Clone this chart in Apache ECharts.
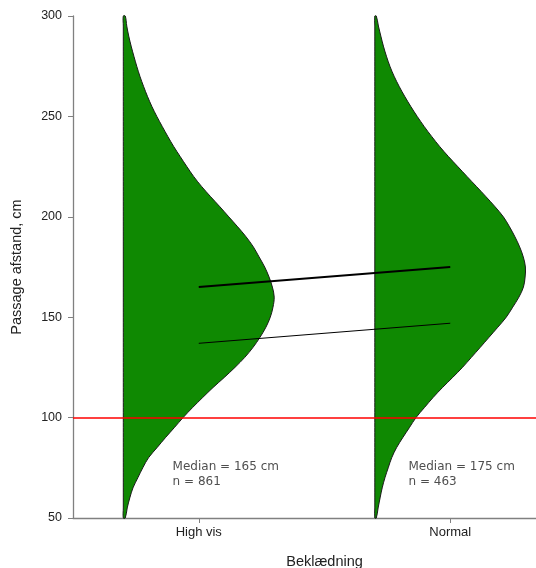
<!DOCTYPE html>
<html>
<head>
<meta charset="utf-8">
<script src="https://cdn.jsdelivr.net/npm/echarts@6/dist/echarts.min.js"></script>
<style>html,body{margin:0;padding:0;background:#fff;}#c{width:536px;height:568px;}</style>
</head>
<body>
<div id="c"></div>
<script>
const categories = ['High vis', 'Normal'];
const medians = [165, 175];
const counts = [861, 463];
const lowerLine = [137, 147];
const refLine = 100;
// annotation anchor (x in category units, y in cm)
const noteX = [0.896, 1.834];
const noteY = [71.5, 71.5];

// Density levels (cm) and relative half-violin widths (peak = 1)
const densityY = [50,55,60,65,70,75,80,85,90,95,100,105,110,115,120,125,130,135,140,145,150,155,160,165,170,175,180,185,190,195,200,205,210,215,220,225,230,235,240,245,250,255,260,265,270,275,280,285,290,295,300];
const densityHighVis = [0.013,0.026,0.043,0.064,0.096,0.129,0.167,0.223,0.279,0.338,0.396,0.459,0.526,0.595,0.669,0.740,0.805,0.860,0.906,0.945,0.974,0.992,1.0,0.988,0.966,0.937,0.900,0.862,0.814,0.758,0.699,0.640,0.579,0.520,0.467,0.421,0.377,0.334,0.295,0.258,0.222,0.189,0.160,0.134,0.110,0.089,0.070,0.052,0.036,0.023,0.013];
const densityNormal = [0.010,0.022,0.035,0.049,0.067,0.089,0.112,0.144,0.185,0.229,0.273,0.329,0.386,0.449,0.516,0.581,0.640,0.699,0.757,0.815,0.871,0.914,0.955,0.985,0.996,0.998,0.984,0.960,0.929,0.893,0.852,0.797,0.737,0.675,0.612,0.550,0.488,0.430,0.377,0.327,0.281,0.238,0.198,0.161,0.128,0.100,0.077,0.057,0.040,0.024,0.010];
const densities = [densityHighVis, densityNormal];

const HALF_MAX = 0.6;   // max half-width in category units
const OFFSET = 0.3;     // violin baseline offset left of category

const chart = echarts.init(document.getElementById('c'), null, {renderer: 'canvas'});

const option = {
  animation: false,
  backgroundColor: '#fff',
  grid: {left: 73, top: 16, right: -40, bottom: 50, containLabel: false, outerBoundsMode: 'none'},
  xAxis: {
    type: 'value', min: 0.5, max: 2.5,
    name: 'Beklædning', nameLocation: 'middle', nameGap: 36,
    nameTextStyle: {fontFamily: 'Liberation Sans', fontSize: 14.5, color: '#222'},
    axisLine: {show: true, lineStyle: {color: '#808080', width: 1.3}},
    axisTick: {show: true, length: 5, customValues: [1, 2], lineStyle: {color: '#808080'}},
    axisLabel: {customValues: [1, 2], margin: 8, formatter: v => categories[Math.round(v) - 1] || '',
      fontFamily: 'Liberation Sans', fontSize: 13, color: '#222'},
    splitLine: {show: false}
  },
  yAxis: {
    type: 'value', min: 50, max: 300, interval: 50,
    name: 'Passage afstand, cm', nameLocation: 'middle', nameGap: 49,
    nameTextStyle: {fontFamily: 'Liberation Sans', fontSize: 14.5, color: '#222'},
    axisLine: {show: true, lineStyle: {color: '#808080', width: 1.3}},
    axisTick: {show: true, length: 5, lineStyle: {color: '#808080'}},
    axisLabel: {margin: 11, fontFamily: 'Liberation Sans', fontSize: 12.5, color: '#222'},
    splitLine: {show: false}
  },
  series: [
    {
      type: 'line', data: [], z: 1,
      markLine: {silent: true, symbol: 'none', label: {show: false},
        lineStyle: {color: '#ff0000', width: 1.5, type: 'solid'},
        data: [{yAxis: refLine}]}
    },
    {
      type: 'custom', z: 2,
      data: categories.map((c, i) => [i]),
      encode: {x: 0},
      renderItem: function (params, api) {
        const idx = api.value(0);
        const dens = densities[idx];
        const base = idx + 1 - OFFSET;
        const pts = [];
        for (let i = 0; i < densityY.length; i++) {
          pts.push(api.coord([base + dens[i] * HALF_MAX, densityY[i]]));
        }
        for (let i = densityY.length - 1; i >= 0; i--) {
          pts.push(api.coord([base, densityY[i]]));
        }
        return {type: 'polygon', shape: {points: pts, smooth: 0.35},
          style: {fill: '#0f8902', stroke: '#1a1a1a', lineWidth: 1}};
      }
    },
    {
      type: 'line', z: 3, symbol: 'none',
      data: medians.map((m, i) => [i + 1, m]),
      lineStyle: {color: '#000', width: 2}
    },
    {
      type: 'line', z: 3, symbol: 'none',
      data: lowerLine.map((m, i) => [i + 1, m]),
      lineStyle: {color: '#000', width: 1}
    },
    {
      type: 'scatter', z: 4, symbolSize: 0,
      data: noteX.map((x, i) => [x, noteY[i]]),
      label: {show: true, position: 'right', distance: 0, align: 'left',
        fontFamily: 'DejaVu Sans', fontSize: 12, lineHeight: 15, color: '#222',
        formatter: p => 'Median = ' + medians[p.dataIndex] + ' cm\nn = ' + counts[p.dataIndex]}
    }
  ]
};
chart.setOption(option);
</script>
</body>
</html>
